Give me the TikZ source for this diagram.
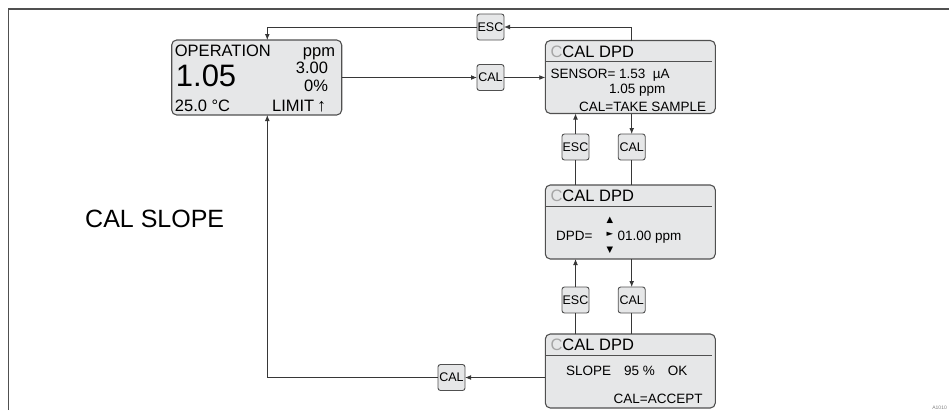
\documentclass[tikz,border=0pt]{standalone}
\usepackage{fontspec}
\setmainfont{Liberation Sans}
\newfontfamily\symfont{DejaVu Sans}
\usetikzlibrary{arrows.meta, positioning, calc}
\definecolor{panelgray}{RGB}{230, 231, 232}
\definecolor{edgegray}{RGB}{80, 80, 80}
\definecolor{wiregray}{RGB}{55, 55, 55}
\definecolor{softc}{RGB}{165, 165, 165}

\begin{document}
\begin{tikzpicture}[x=1pt, y=-1pt, >={Latex[length=6pt, width=4.8pt]},
    display/.style={rectangle, draw=edgegray, fill=panelgray, line width=1.1pt, rounded corners=5pt, minimum width=170pt, inner sep=0pt, outer sep=0pt},
    key/.style={rectangle, draw=edgegray, fill=panelgray, line width=0.9pt, rounded corners=2.5pt, minimum width=27pt, minimum height=26pt, inner sep=0pt, outer sep=0pt, font=\fontsize{12.5}{13}\selectfont},
    conn/.style={draw=wiregray, line width=0.8pt},
    rule/.style={draw=edgegray, line width=0.9pt},
    lcd/.style={inner sep=0pt, anchor=base west, text=black},
    lcdr/.style={inner sep=0pt, anchor=base east, text=black},
    hdr/.style={lcd, font=\fontsize{16.5}{18}\selectfont},
    small/.style={font=\fontsize{13.5}{15}\selectfont},
    tri/.style={inner sep=0pt, font=\symfont\fontsize{8.5}{9}\selectfont}]

    \useasboundingbox (0,0) rectangle (949,410);

    % Frame
    \draw[draw=edgegray, line width=1.4pt] (8.5,410) -- (8.5,9) -- (949,9);

    % Displays
    \node[display, minimum height=75pt] (oper) at (256.7,77.5) {};
    \node[display, minimum height=73pt] (take) at (630.3,77) {};
    \node[display, minimum height=74pt] (dpd) at (630.3,222) {};
    \node[display, minimum height=74pt] (slope) at (630.3,371) {};

    % Keys
    \node[key] (esctop) at (490.5,27) {ESC};
    \node[key] (calmid) at (490.5,77.5) {CAL};
    \node[key] (escA) at (575.5,147) {ESC};
    \node[key] (calA) at (631.7,147) {CAL};
    \node[key] (escB) at (575.5,300) {ESC};
    \node[key] (calB) at (631.7,300) {CAL};
    \node[key] (calbot) at (451.5,377.5) {CAL};

    % Operation display
    \node[lcd, font=\fontsize{16.5}{18}\selectfont] (optitle) at ($(oper.north west)+(3,16.7)$) {OPERATION};
    \node[lcdr, font=\fontsize{16.5}{18}\selectfont] (opunit) at ($(oper.north east)+(-6.5,16.7)$) {ppm};
    \node[lcd, font=\fontsize{31}{33}\selectfont] (opval) at ($(oper.north west)+(4,46.7)$) {1.05};
    \node[lcdr, font=\fontsize{16.5}{18}\selectfont] (opset) at ($(oper.north east)+(-13.5,33.3)$) {3.00};
    \node[lcdr, font=\fontsize{16.5}{18}\selectfont] (opout) at ($(oper.north east)+(-13.5,51.7)$) {0\%};
    \node[lcd, font=\fontsize{16.5}{18}\selectfont] (optemp) at ($(oper.north west)+(3,71.2)$) {25.0 °C};
    \node[lcdr, font=\fontsize{16.5}{18}\selectfont] (oplimit) at ($(oper.north east)+(-15.5,71.2)$) {LIMIT\,{\fontsize{18}{18}\selectfont↑}};

    % CAL DPD: sensor
    \node[hdr] (takehd) at ($(take.north west)+(5,16.7)$) {\textcolor{softc}{C}CAL DPD};
    \draw[rule] ($(take.north west)+(0,20.7)$) -- ($(take.north east)+(-3.5,20.7)$);
    \node[lcd, small] (sensor) at ($(take.north west)+(5,38.3)$) {SENSOR= 1.53\ \ µA};
    \node[lcd, small] (sensppm) at ($(take.north west)+(63.5,53.3)$) {1.05 ppm};
    \node[lcdr, small] (takehint) at ($(take.north east)+(-9,71)$) {CAL=TAKE SAMPLE};

    % CAL DPD: value entry
    \node[hdr] (dpdhd) at ($(dpd.north west)+(5,16.7)$) {\textcolor{softc}{C}CAL DPD};
    \draw[rule] ($(dpd.north west)+(0,21)$) -- ($(dpd.north east)+(-3.5,21)$);
    \node[lcd, small] (dpdlbl) at ($(dpd.north west)+(10.5,55)$) {DPD=};
    \node[lcd, small] (dpdval) at ($(dpd.north west)+(72,55)$) {01.00 ppm};
    \node[tri] (dpdup) at ($(dpd.north west)+(64.5,35)$) {▲};
    \node[tri] (dpdset) at ($(dpd.north west)+(64.5,49.5)$) {►};
    \node[tri] (dpddown) at ($(dpd.north west)+(64.5,65)$) {▼};

    % CAL DPD: slope
    \node[hdr] (slopehd) at ($(slope.north west)+(5,16.7)$) {\textcolor{softc}{C}CAL DPD};
    \draw[rule] ($(slope.north west)+(0,21)$) -- ($(slope.north east)+(-3.5,21)$);
    \node[lcd, small] (slopeval) at ($(slope.north west)+(20.5,41)$) {SLOPE\hspace{13pt}95 \%\hspace{13pt}OK};
    \node[lcdr, small] (slopehint) at ($(slope.north east)+(-12.5,69.3)$) {CAL=ACCEPT};

    % Title
    \node[lcd, font=\fontsize{25}{28}\selectfont] (title) at (85,227) {CAL SLOPE};
    \node[inner sep=0pt, anchor=base east, text=gray, font=\fontsize{5}{5}\selectfont] (figno) at (947,409) {A1010};

    % Connections
    \coordinate (optop) at ($(oper.north)+(10.6,0)$);
    \coordinate (opbot) at ($(oper.south)+(10.6,0)$);
    \draw[conn, ->] (calA |- take.north) |- (esctop.east);
    \draw[conn, ->] (esctop.west) -| (optop);
    \draw[conn, ->] (oper.east |- calmid) -- (calmid.west);
    \draw[conn, ->] (calmid.east) -- (calmid.east -| take.west);
    \draw[conn] (escA |- dpd.north) -- (escA.south);
    \draw[conn, ->] (escA.north) -- (escA |- take.south);
    \draw[conn, ->] (calA |- take.south) -- (calA.north);
    \draw[conn] (calA.south) -- (calA |- dpd.north);
    \draw[conn] (escB |- slope.north) -- (escB.south);
    \draw[conn, ->] (escB.north) -- (escB |- dpd.south);
    \draw[conn, ->] (calB |- dpd.south) -- (calB.north);
    \draw[conn] (calB.south) -- (calB |- slope.north);
    \draw[conn, ->] (slope.west |- calbot) -- (calbot.east);
    \draw[conn, ->] (calbot.west) -| (opbot);
\end{tikzpicture}
\end{document}
